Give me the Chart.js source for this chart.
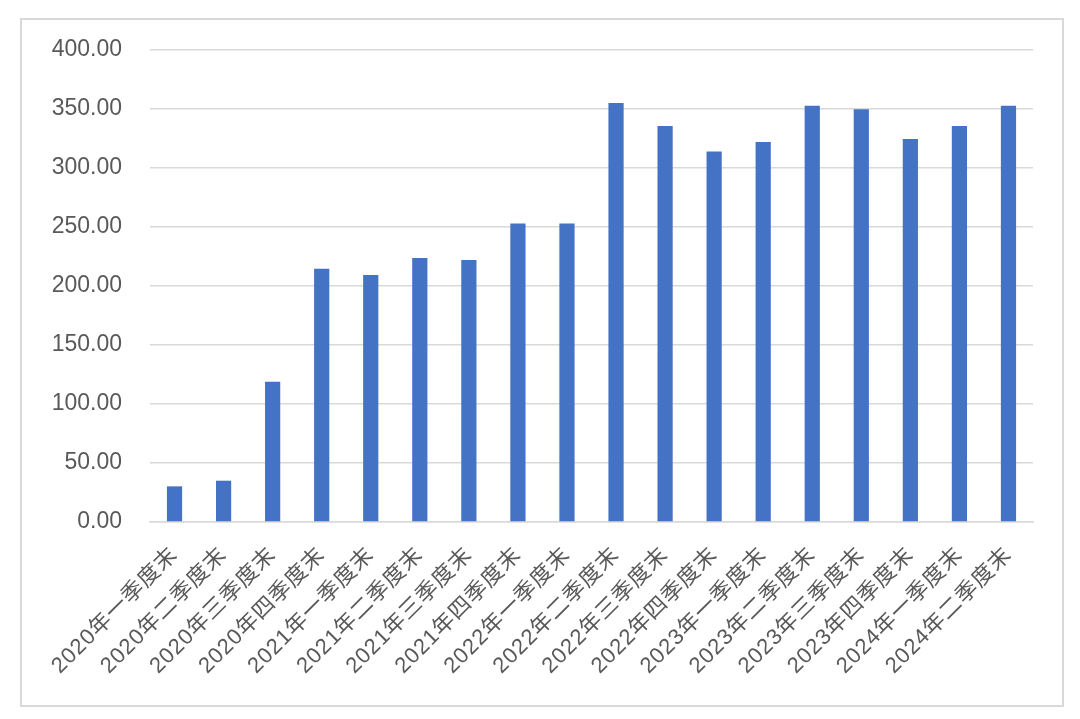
<!DOCTYPE html>
<html>
<head>
<meta charset="utf-8">
<script src="https://cdn.jsdelivr.net/npm/chart.js@4/dist/chart.umd.min.js"></script>
<style>
  html, body { margin: 0; padding: 0; background: #ffffff; }
  #wrap { position: relative; width: 1080px; height: 719px; }
  #frame { position: absolute; left: 20px; top: 18px; width: 1040px; height: 685px; border: 2px solid #d9d9d9; pointer-events: none; }
  canvas { position: absolute; left: 0; top: 0; }
</style>
</head>
<body>
<div id="wrap">
  <canvas id="c" width="1080" height="719"></canvas>
  <div id="frame"></div>
</div>
<script>
const categories = [
  "2020年一季度末", "2020年二季度末", "2020年三季度末", "2020年四季度末",
  "2021年一季度末", "2021年二季度末", "2021年三季度末", "2021年四季度末",
  "2022年一季度末", "2022年二季度末", "2022年三季度末", "2022年四季度末",
  "2023年一季度末", "2023年二季度末", "2023年三季度末", "2023年四季度末",
  "2024年一季度末", "2024年二季度末"
];
const values = [
  30.2, 35.0, 118.9, 214.7,
  209.3, 223.7, 222.0, 253.0,
  253.0, 355.0, 335.5, 314.0,
  322.0, 352.8, 349.8, 324.5,
  335.5, 352.8
];
const yMin = 0;
const yMax = 400;
const yStep = 50;

const xLabelSpacing = {
  id: 'xLabelSpacing',
  beforeDraw(chart) {
    const xs = chart.scales.x;
    if (xs && !xs._spacedWrap) {
      const orig = xs.drawLabels;
      xs.drawLabels = function (area) {
        const ctx = this.ctx;
        const prev = ctx.letterSpacing;
        ctx.letterSpacing = '1px';
        orig.call(this, area);
        ctx.letterSpacing = prev || '0px';
      };
      xs._spacedWrap = true;
    }
  }
};

new Chart(document.getElementById('c'), {
  type: 'bar',
  data: {
    labels: categories,
    datasets: [{
      data: values,
      backgroundColor: '#4472C4',
      borderWidth: 0,
      categoryPercentage: 0.31,
      barPercentage: 1.0
    }]
  },
  plugins: [xLabelSpacing],
  options: {
    responsive: false,
    animation: false,
    devicePixelRatio: 1,
    layout: { padding: { top: 50, left: 0, right: 47, bottom: 0 } },
    plugins: { legend: { display: false }, tooltip: { enabled: false }, title: { display: false } },
    scales: {
      y: {
        min: yMin, max: yMax,
        afterFit: (s) => { s.width = 150; },
        border: { display: false },
        grid: { color: '#d9d9d9', lineWidth: 1.5, drawTicks: false },
        ticks: {
          stepSize: yStep,
          padding: 28,
          color: '#595959',
          font: { family: '"Liberation Sans", Arial, sans-serif', size: 23 },
          callback: (v) => Number(v).toFixed(2)
        }
      },
      x: {
        afterFit: (s) => { s.height = 197; },
        border: { display: true, color: '#d9d9d9', width: 1.5 },
        grid: { display: false, drawTicks: false },
        ticks: {
          autoSkip: false,
          maxRotation: 45,
          minRotation: 45,
          padding: 20,
          color: '#595959',
          font: { family: '"Liberation Sans", "Noto Sans CJK SC", sans-serif', size: 22 }
        }
      }
    }
  }
});
</script>
</body>
</html>
